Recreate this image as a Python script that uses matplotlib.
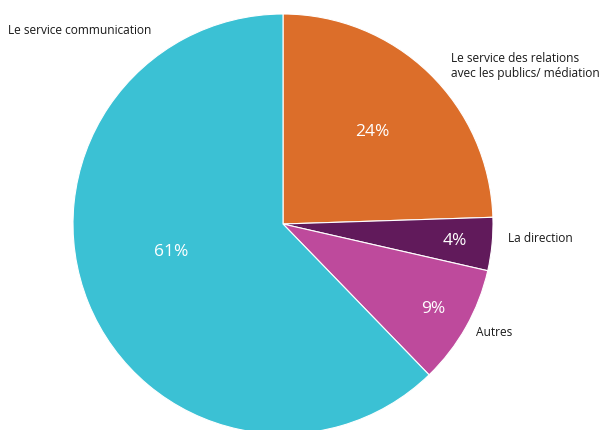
import matplotlib.pyplot as plt
import numpy as np

plt.rcParams['font.family'] = ['Open Sans', 'DejaVu Sans']

# Share of answers per service
services = ['Le service des relations\navec les publics/ médiation',
            'La direction', 'Autres', 'Le service communication']
shares = [24, 4, 9, 61]
colors = ['#DC6E2A', '#611A5B', '#BE4A9C', '#3BC1D4']

fig = plt.figure(figsize=(6.03, 4.30), dpi=100)
ax = fig.add_axes([0, 0, 1, 1])

radius = 210
center = (283, 206)
wedges, _ = ax.pie(shares, colors=colors, startangle=90, counterclock=False,
                   radius=radius, center=center,
                   wedgeprops=dict(edgecolor='white', linewidth=0.8))

# Percent labels inside the slices (distance from centre, angle tweak)
pct_dist = [0.61, 0.82, 0.82, 0.55]
pct_turn = [0, 0, 0, -8]
for w, v, d, t in zip(wedges, shares, pct_dist, pct_turn):
    ang = np.deg2rad((w.theta1 + w.theta2) / 2 + t)
    x = center[0] + radius * d * np.cos(ang)
    y = center[1] + radius * d * np.sin(ang)
    ax.text(x, y, f'{v}%', color='white', fontsize=12.5,
            ha='center', va='center')

# Category names outside the pie
label_pos = [(451, 364), (508, 192), (476, 98), (8, 399)]
for name, (x, y) in zip(services, label_pos):
    ax.text(x, y, name, fontsize=8.6, color='#1a1a1a', ha='left', va='center',
            linespacing=1.25)

ax.set_xlim(0, 603)
ax.set_ylim(0, 430)
ax.set_aspect('equal')
ax.axis('off')

plt.savefig('out.png', dpi=100)
